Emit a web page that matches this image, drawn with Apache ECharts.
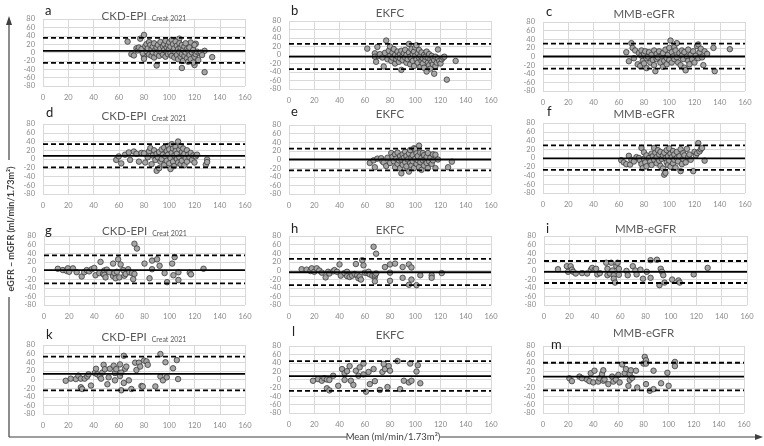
<!DOCTYPE html>
<html><head><meta charset="utf-8">
<script src="https://cdn.jsdelivr.net/npm/echarts@6/dist/echarts.min.js"></script>
<style>html,body{margin:0;padding:0;background:#fff}#c{width:764px;height:446px}</style>
</head><body><div id="c"></div>
<script>
// ---------- DATA ----------
const panelLetters = ['a','b','c','d','e','f','g','h','i','k','l','m'];
const panelTitles = ['CKD-EPI','EKFC','MMB-eGFR','CKD-EPI','EKFC','MMB-eGFR','CKD-EPI','EKFC','MMB-eGFR','CKD-EPI','EKFC','MMB-eGFR'];
const xTicks = [0,20,40,60,80,100,120,140,160];
const yTicks = [-80,-60,-40,-20,0,20,40,60,80];
const biasValues  = [4,-4,0,7,0,-1,1,-4,-3,13,8,7];
const upperLoA    = [35,26,30,34,25,29,35,27,22,53,44,40];
const lowerLoA    = [-25,-33,-28,-19,-25,-27,-30,-34,-29,-25,-27,-26];

const ptsA = [[67,26],[70,-4],[72,-7],[74,10],[77,33],[80,42],[80,-10],[80,-15],[90,-31],[110,-37],[128,-47],[134,-11],[128,4],[117,24],[121,21],[108,33],[120,-30],
[75,5],[76,12],[78,8],[79,-2],[81,15],[82,20],[82,3],[83,10],[84,-5],[84,25],[85,18],[86,8],[86,-8],[87,14],[87,0],[88,22],[88,-12],[89,6],[90,12],[90,-3],[91,18],[92,4],[92,-8],[93,25],[93,10],[94,0],[95,15],[95,-5],[96,20],[96,6],[97,-10],[97,28],[98,12],[98,2],[99,-4],[99,18],[100,24],[100,8],[101,-2],[101,14],[102,30],[102,-8],[103,20],[103,4],[104,10],[104,-12],[105,26],[105,0],[106,16],[106,-6],[107,8],[107,-16],[108,22],[108,2],[109,-10],[109,12],[110,18],[110,-4],[111,6],[111,-20],[112,-8],[112,14],[113,0],[113,22],[114,-14],[114,8],[115,-22],[115,4],[116,-6],[116,12],[117,-16],[118,0],[119,-24],[119,6],[120,-10],[120,18],[121,-4],[122,2],[123,-18],[124,-2],[125,0],[126,-6]];
const ptsB = [[62,15],[68,4],[68,-4],[69,-16],[70,19],[71,-2],[72,2],[74,-6],[75,-27],[76,5],[77,34],[78,-10],[79,10],[80,-2],[80,20],[81,-14],[82,6],[82,-6],[83,14],[84,-20],[84,0],[85,-10],[86,8],[86,-4],[87,-16],[88,2],[88,-8],[89,-35],[89,10],[90,-2],[90,-12],[91,4],[92,-6],[92,12],[93,-18],[93,0],[94,-10],[95,26],[95,6],[96,-4],[96,-22],[97,14],[97,-8],[98,2],[98,-14],[99,-26],[99,8],[100,-2],[100,18],[101,23],[101,-10],[102,-18],[102,4],[103,-6],[103,12],[104,-28],[104,-2],[105,-14],[105,6],[106,-8],[106,-20],[107,0],[107,-30],[108,-12],[108,-4],[109,-39],[109,8],[110,-18],[110,-6],[111,-24],[111,2],[112,-10],[112,-32],[113,-16],[113,-2],[114,-22],[114,-8],[115,-44],[115,-12],[116,-26],[116,-4],[117,-18],[118,13],[118,-8],[119,-14],[120,-20],[121,-10],[122,-6],[123,-4],[125,-58],[132,-14]];
const ptsC = [[66,10],[68,-11],[70,31],[71,20],[72,-4],[73,14],[75,-18],[76,8],[77,-22],[78,2],[78,14],[79,-10],[80,6],[80,-16],[81,12],[82,-27],[82,-4],[83,0],[84,10],[85,-14],[86,4],[87,-8],[88,14],[88,-20],[89,-34],[90,6],[90,-6],[91,-2],[92,12],[93,-14],[94,2],[95,-24],[95,8],[96,-10],[97,16],[98,-4],[98,-18],[99,4],[100,20],[100,-8],[101,37],[102,10],[102,-14],[103,0],[104,22],[104,-6],[105,14],[106,31],[106,-2],[107,-14],[108,8],[109,-20],[110,2],[110,14],[111,-6],[112,-26],[112,10],[113,-32],[114,0],[115,16],[115,-10],[116,-18],[117,4],[118,-6],[119,12],[120,-14],[121,2],[122,24],[123,28],[123,-4],[124,10],[125,18],[126,-2],[127,-20],[128,12],[130,6],[135,20],[136,-34],[148,17]];
const ptsD = [[58,-2],[60,6],[62,-10],[65,10],[68,15],[69,-2],[72,17],[74,12],[76,-6],[78,14],[80,13],[81,-8],[83,4],[84,18],[85,25],[86,-12],[87,8],[88,20],[89,-2],[90,-27],[90,12],[91,4],[92,-21],[92,16],[93,-6],[94,22],[94,0],[95,10],[96,-14],[96,26],[97,6],[98,18],[98,-4],[99,30],[99,10],[100,-10],[100,22],[101,-23],[101,2],[102,14],[102,34],[103,-6],[103,24],[104,8],[104,-16],[105,28],[105,18],[106,0],[106,12],[107,40],[107,-8],[108,22],[108,4],[109,30],[109,-12],[110,16],[110,-4],[111,8],[111,24],[112,-14],[112,12],[113,2],[114,20],[114,-6],[115,10],[116,4],[117,14],[118,-2],[119,8],[120,-8],[121,6],[122,10],[129,-13],[130,-1],[130,-7]];
const ptsE = [[64,-8],[67,-2],[68,-18],[70,2],[73,3],[74,-4],[75,-7],[77,-15],[78,4],[80,-8],[81,15],[82,6],[83,-4],[84,-18],[84,12],[85,2],[86,-10],[86,16],[87,-2],[88,-20],[88,8],[89,-32],[89,0],[90,12],[90,-12],[91,4],[92,-6],[92,18],[93,-16],[93,8],[94,0],[95,-28],[95,14],[96,-8],[96,22],[97,4],[97,-14],[98,10],[98,-4],[99,26],[99,-20],[100,24],[100,2],[101,-10],[101,14],[102,-2],[102,8],[103,32],[103,-18],[104,16],[104,-6],[105,4],[105,-24],[106,15],[106,-2],[107,10],[107,-14],[108,0],[109,-8],[109,6],[110,15],[110,-20],[111,-4],[112,4],[113,-10],[114,12],[114,-2],[116,11],[116,-20],[118,0],[126,-18],[129,-5]];
const ptsF = [[62,-5],[64,-10],[66,-14],[68,5],[69,-15],[70,-4],[72,-8],[74,2],[76,0],[77,-6],[78,-14],[78,23],[79,-23],[80,13],[80,-2],[81,-10],[82,-19],[82,6],[84,0],[85,-8],[86,10],[86,-16],[87,4],[88,23],[88,-4],[89,12],[90,-12],[90,2],[91,18],[92,-6],[92,8],[93,-18],[93,14],[94,-2],[95,6],[95,-24],[96,-38],[96,12],[97,-34],[97,0],[98,-10],[98,18],[99,4],[99,-16],[100,22],[100,-6],[101,10],[101,-20],[102,2],[103,16],[103,-12],[104,-4],[104,8],[105,-22],[106,0],[106,14],[107,-8],[108,4],[109,-30],[109,20],[110,-14],[111,11],[111,-2],[112,6],[113,-10],[114,21],[115,2],[116,8],[117,-4],[119,-30],[120,14],[121,6],[122,11],[123,34],[124,15],[125,20],[126,23],[128,-6]];
const ptsG = [[11,4],[15,1],[18,-1],[19,5],[20,-3],[23,5],[26,-4],[30,-14],[32,-4],[34,1],[36,-2],[38,3],[40,6],[41,-11],[44,-6],[45,20],[47,-8],[48,0],[48,-10],[49,-16],[50,2],[52,-4],[55,16],[55,-13],[56,-6],[57,-18],[58,-3],[59,26],[60,-16],[61,14],[63,1],[64,-12],[65,-8],[67,3],[68,-4],[70,-6],[71,-20],[72,62],[72,-8],[74,51],[80,16],[84,-18],[86,3],[86,23],[90,26],[92,11],[96,-6],[98,-27],[102,16],[103,-11],[104,31],[107,-4],[107,-22],[116,-5],[117,-9],[127,4]];
const ptsH = [[10,3],[14,2],[17,-1],[18,5],[20,-3],[22,5],[24,0],[26,-5],[29,-16],[31,-3],[32,-7],[35,-2],[36,1],[38,-3],[40,14],[41,-12],[44,-6],[46,-3],[46,-13],[48,-15],[50,-12],[52,-8],[53,15],[54,-11],[55,-18],[56,-14],[57,-21],[58,24],[59,12],[60,-5],[62,-6],[63,-3],[64,-9],[66,-12],[67,55],[68,-15],[68,-25],[68,-10],[69,39],[69,-7],[76,8],[80,14],[80,-5],[80,-24],[84,16],[90,-17],[90,8],[95,-33],[95,14],[97,7],[97,-21],[101,-34],[104,-11],[113,-11],[113,-17],[121,-6]];
const ptsI = [[11,3],[18,10],[19,-3],[21,10],[22,2],[23,-3],[25,-7],[30,-6],[34,-7],[37,2],[38,6],[40,2],[41,4],[42,-9],[44,-6],[49,18],[50,4],[50,-11],[52,-7],[53,18],[54,0],[55,-11],[55,-19],[56,-28],[57,10],[58,18],[59,4],[59,-10],[65,-1],[66,-11],[70,10],[72,0],[73,-9],[76,2],[78,-19],[81,-3],[84,-17],[84,24],[89,25],[91,-34],[92,4],[93,-3],[94,-11],[95,-28],[101,-21],[106,-23],[107,-28],[118,-9],[129,6]];
const ptsK = [[18,-3],[22,2],[26,1],[28,9],[30,2],[30,-18],[31,-22],[33,2],[35,7],[36,12],[38,-14],[41,15],[42,25],[43,12],[45,7],[46,2],[47,16],[48,34],[49,24],[51,-11],[52,5],[53,25],[56,32],[57,15],[57,-2],[58,24],[61,8],[61,35],[62,-25],[62,16],[64,-8],[64,55],[65,25],[66,30],[68,-2],[70,-22],[73,39],[74,22],[76,39],[77,30],[78,-15],[79,-16],[80,44],[82,42],[83,34],[89,-16],[93,59],[93,7],[95,-2],[97,40],[98,5],[103,26],[106,45],[107,1]];
const ptsL = [[19,-3],[23,1],[26,-3],[28,3],[30,0],[30,-21],[32,-26],[32,-1],[35,9],[39,-15],[42,25],[44,15],[44,-1],[46,20],[48,32],[49,-3],[51,-13],[53,21],[55,9],[56,29],[59,38],[59,12],[61,-29],[63,18],[64,-11],[67,25],[68,-4],[72,-25],[74,18],[75,37],[76,25],[78,-18],[79,32],[80,21],[86,44],[88,-23],[91,-3],[95,-7],[96,38],[97,-3],[101,19],[102,34],[104,-9]];
const ptsM = [[21,3],[23,-4],[29,7],[31,3],[35,0],[37,-4],[38,15],[40,-7],[41,21],[44,-5],[45,3],[47,13],[48,-3],[48,22],[49,0],[52,-11],[55,7],[56,-5],[58,0],[60,11],[61,-7],[63,36],[65,15],[66,25],[68,-15],[69,13],[69,-1],[70,22],[71,4],[74,21],[75,-19],[80,38],[81,54],[82,46],[82,-11],[82,38],[85,-27],[88,21],[88,-23],[94,-9],[99,16],[100,-15],[105,42],[105,32]];
const allPoints = [ptsA,ptsB,ptsC,ptsD,ptsE,ptsF,ptsG,ptsH,ptsI,ptsK,ptsL,ptsM];

// ---------- LAYOUT ----------
const boxes = [
  [43,245,19,86],[289,491,21,89],[543,745,22,91],
  [43,245,124,194],[289,491,125,194],[543,745,123,193],
  [44,245,236,305],[289,491,236,305],[544,747,236,305],
  [43,245,345,414],[289,491,346,413],[543,744,346,413]
];
const titleY  = [13,12,13,113,113,113,228,229,228,334,334,332];
const letterPos = [[45,12],[291,12],[546,13],[46,114],[291,113],[547,113],[45,232],[291,230],[546,230],[46,336],[292,333],[551,346]];

const FONT = 'Lato, "Open Sans", sans-serif';
const grid=[], xAxis=[], yAxis=[], series=[], title=[];
boxes.forEach((b,i)=>{
  grid.push({left:b[0], top:b[2], width:b[1]-b[0], height:b[3]-b[2], containLabel:false, outerBoundsMode:'none'});
  xAxis.push({type:'value', gridIndex:i, min:xTicks[0], max:xTicks[xTicks.length-1], interval:20,
    axisLine:{show:false}, axisTick:{show:false},
    axisLabel:{fontSize:7.5, color:'#8a8a8a', margin:8, fontFamily:FONT},
    splitLine:{show:true, lineStyle:{color:'#d9d9d9', width:1}}});
  yAxis.push({type:'value', gridIndex:i, min:yTicks[0], max:yTicks[yTicks.length-1], interval:20,
    axisLine:{show:false}, axisTick:{show:false},
    axisLabel:{fontSize:7.5, color:'#8a8a8a', margin:8, fontFamily:FONT},
    splitLine:{show:true, lineStyle:{color:'#d9d9d9', width:1}}});
  series.push({type:'scatter', xAxisIndex:i, yAxisIndex:i, data:allPoints[i], symbolSize:5.5, z:3,
    itemStyle:{color:'#a6a6a6', borderColor:'#3a3a3a', borderWidth:0.8, opacity:1}, silent:true});
  const xmin=xTicks[0], xmax=xTicks[xTicks.length-1];
  series.push({type:'line', xAxisIndex:i, yAxisIndex:i, data:[[xmin,biasValues[i]],[xmax,biasValues[i]]], symbol:'none', z:4,
    lineStyle:{color:'#000', width:1.8, type:'solid'}, silent:true});
  [upperLoA[i], lowerLoA[i]].forEach(v=>{
    series.push({type:'line', xAxisIndex:i, yAxisIndex:i, data:[[xmin,v],[xmax,v]], symbol:'none', z:4,
      lineStyle:{color:'#000', width:1.8, type:[5,3]}, silent:true});
  });
  const cx=(b[0]+b[1])/2;
  const isCKD = panelTitles[i]==='CKD-EPI';
  title.push({
    text: isCKD ? '{m|CKD-EPI} {s|Creat 2021}' : '{m|'+panelTitles[i]+'}',
    left: cx, top: titleY[i], textAlign:'center', textVerticalAlign:'middle', padding:0,
    textStyle:{fontWeight:'normal', rich:{
      m:{fontSize:11.5, color:'#595959', fontWeight:'normal', fontFamily:FONT, lineHeight:14, verticalAlign:'bottom'},
      s:{fontSize:7, color:'#595959', fontWeight:'normal', fontFamily:FONT, lineHeight:14, verticalAlign:'bottom'}
    }}
  });
  title.push({text:panelLetters[i], left:letterPos[i][0], top:letterPos[i][1]-8, padding:0,
    textStyle:{fontSize:13, color:'#222', fontWeight:'normal', fontFamily:FONT}});
});

const chart = echarts.init(document.getElementById('c'), null, {renderer:'canvas'});
chart.setOption({
  animation:false,
  backgroundColor:'#fff',
  title, grid, xAxis, yAxis, series,
  graphic:[
    {type:'line', shape:{x1:9,y1:24,x2:9,y2:160}, style:{stroke:'#404040', lineWidth:1.2}},
    {type:'line', shape:{x1:9,y1:297,x2:9,y2:437}, style:{stroke:'#404040', lineWidth:1.2}},
    {type:'polygon', shape:{points:[[9,16],[6,25],[12,25]]}, style:{fill:'#404040'}},
    {type:'text', x:11, y:229, rotation:Math.PI/2, style:{text:'eGFR – mGFR (ml/min/1.73m²)', fontSize:9, fontWeight:'bold', fill:'#404040', fontFamily:FONT, align:'center', verticalAlign:'middle'}},
    {type:'line', shape:{x1:9,y1:437,x2:347,y2:437}, style:{stroke:'#404040', lineWidth:1.2}},
    {type:'line', shape:{x1:440,y1:437,x2:756,y2:437}, style:{stroke:'#404040', lineWidth:1.2}},
    {type:'polygon', shape:{points:[[763,437],[755,434],[755,440]]}, style:{fill:'#404040'}},
    {type:'text', x:393, y:437, style:{text:'Mean (ml/min/1.73m²)', fontSize:9.5, fill:'#404040', fontFamily:FONT, align:'center', verticalAlign:'middle'}}
  ]
});
</script></body></html>
